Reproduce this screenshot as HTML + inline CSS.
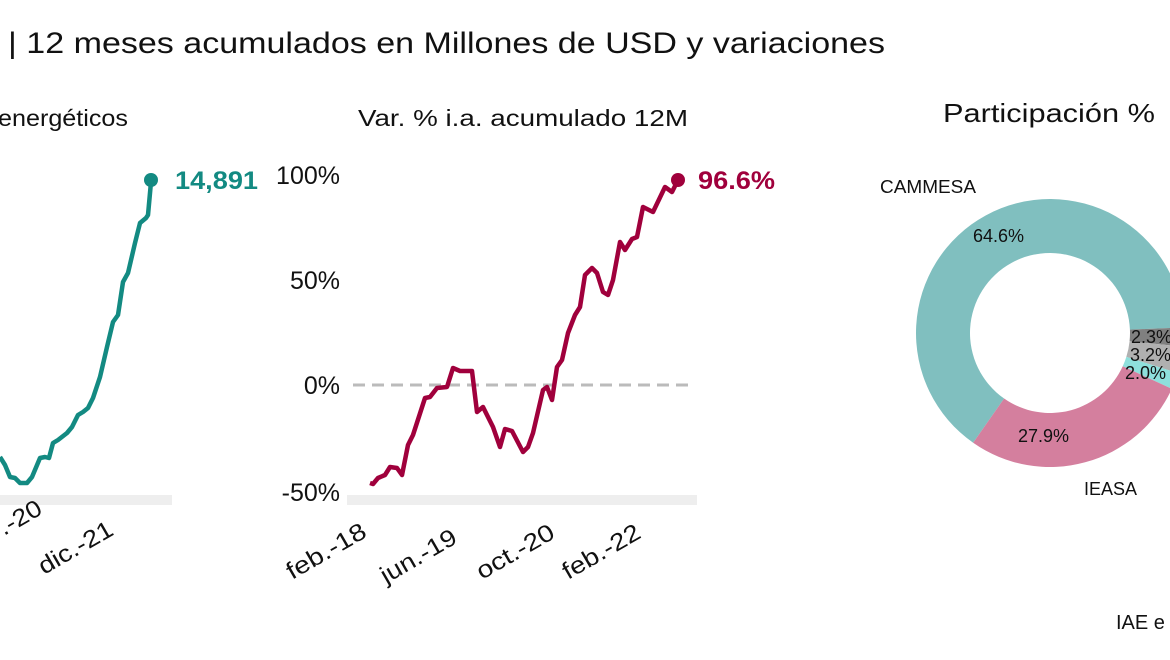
<!DOCTYPE html>
<html><head><meta charset="utf-8"><style>
body{margin:0;background:#fff;}
svg{display:block;font-family:"Liberation Sans",sans-serif;}
</style></head><body>
<svg width="1170" height="660" viewBox="0 0 1170 660">
<text x="8" y="53" font-size="30" fill="#111" textLength="877" lengthAdjust="spacingAndGlyphs">| 12 meses acumulados en Millones de USD y variaciones</text>
<text x="-2" y="126" font-size="23" fill="#111" textLength="130" lengthAdjust="spacingAndGlyphs">energéticos</text>
<text x="358" y="126" font-size="23" fill="#111" textLength="330" lengthAdjust="spacingAndGlyphs">Var. % i.a. acumulado 12M</text>
<text x="943" y="122" font-size="26" fill="#111" textLength="212" lengthAdjust="spacingAndGlyphs">Participación %</text>

<!-- left chart -->
<rect x="0" y="495" width="172" height="10" fill="#eeeeee"/>
<polyline fill="none" stroke="#138a82" stroke-width="4.5" stroke-linejoin="round" points="0,457 5,465 10,477 15,478 20,483 27,483 32,477 40,458 45,457 49,458 53,443 58,440 67,433 72,427 78,415 83,412 88,408 93,398 100,377 107,347 113,322 118,315 123,282 128,273 135,243 140,223 146,218 148,215 151,182"/>
<circle cx="151" cy="180" r="7" fill="#138a82"/>
<text x="175" y="189" font-size="25" font-weight="bold" fill="#138a82" textLength="83" lengthAdjust="spacingAndGlyphs">14,891</text>
<text transform="translate(4,536) rotate(-30)" font-size="24" fill="#111" textLength="46" lengthAdjust="spacingAndGlyphs">.-20</text>
<text transform="translate(44,575) rotate(-30)" font-size="24" fill="#111" textLength="82" lengthAdjust="spacingAndGlyphs">dic.-21</text>

<!-- middle chart -->
<rect x="347" y="495" width="350" height="10" fill="#eeeeee"/>
<line x1="353" y1="385" x2="690" y2="385" stroke="#bbbbbb" stroke-width="3" stroke-dasharray="12,7"/>
<g font-size="25" fill="#111" text-anchor="end">
<text x="340" y="184">100%</text>
<text x="340" y="289">50%</text>
<text x="340" y="394">0%</text>
<text x="340" y="501">-50%</text>
</g>
<polyline fill="none" stroke="#a0003c" stroke-width="4.5" stroke-linejoin="round" points="370,483 373,484 378,478 385,475 390,467 397,468 402,475 408,445 413,435 425,398 430,397 437,388 447,387 453,368 460,371 472,371 477,412 483,407 493,427 500,447 505,429 512,431 523,452 528,447 533,433 543,390 547,387 552,400 557,367 562,360 568,333 575,315 580,307 585,275 592,268 597,273 603,292 608,295 613,280 620,242 625,250 632,239 637,237 643,207 653,212 665,187 672,192 678,180"/>
<circle cx="678" cy="180" r="7" fill="#a0003c"/>
<text x="698" y="189" font-size="25" font-weight="bold" fill="#a0003c" textLength="77" lengthAdjust="spacingAndGlyphs">96.6%</text>
<g font-size="24" fill="#111">
<text transform="translate(292,580) rotate(-30)" textLength="88" lengthAdjust="spacingAndGlyphs">feb.-18</text>
<text transform="translate(386,584) rotate(-30)" textLength="84" lengthAdjust="spacingAndGlyphs">jun.-19</text>
<text transform="translate(482,580) rotate(-30)" textLength="86" lengthAdjust="spacingAndGlyphs">oct.-20</text>
<text transform="translate(568,580) rotate(-30)" textLength="86" lengthAdjust="spacingAndGlyphs">feb.-22</text>
</g>

<!-- donut -->
<g id="donut"></g>
<text x="880" y="193" font-size="18" fill="#111" textLength="96" lengthAdjust="spacingAndGlyphs">CAMMESA</text>
<text x="1084" y="495" font-size="18" fill="#111" textLength="53" lengthAdjust="spacingAndGlyphs">IEASA</text>
<text x="1116" y="629" font-size="20" fill="#111">IAE e</text>
</svg>
<script>
(function(){
var cx=1050,cy=333,R=134,r=80,g=document.getElementById('donut');
var segs=[[215,447.6,'#80bfbf'],[87.6,95.9,'#808080'],[95.9,107.4,'#b0b0b0'],[107.4,114.6,'#8ee0dc'],[114.6,215,'#d47f9e']];
function pt(a,rad){var t=(a-90)*Math.PI/180;return [cx+rad*Math.cos(t),cy+rad*Math.sin(t)];}
segs.forEach(function(s){var a0=s[0],a1=s[1],lg=(a1-a0)>180?1:0;
var p0=pt(a0,R),p1=pt(a1,R),q1=pt(a1,r),q0=pt(a0,r);
var d='M'+p0+'A'+R+','+R+' 0 '+lg+' 1 '+p1+'L'+q1+'A'+r+','+r+' 0 '+lg+' 0 '+q0+'Z';
var e=document.createElementNS('http://www.w3.org/2000/svg','path');e.setAttribute('d',d);e.setAttribute('fill',s[2]);g.appendChild(e);});
var L=[[973,242,'64.6%'],[1018,442,'27.9%'],[1131,343,'2.3%'],[1130,361,'3.2%'],[1125,379,'2.0%']];
L.forEach(function(l){var t=document.createElementNS('http://www.w3.org/2000/svg','text');t.setAttribute('x',l[0]);t.setAttribute('y',l[1]);t.setAttribute('font-size','18');t.setAttribute('fill','#111');t.textContent=l[2];g.appendChild(t);});
})();
</script>
</body></html>
